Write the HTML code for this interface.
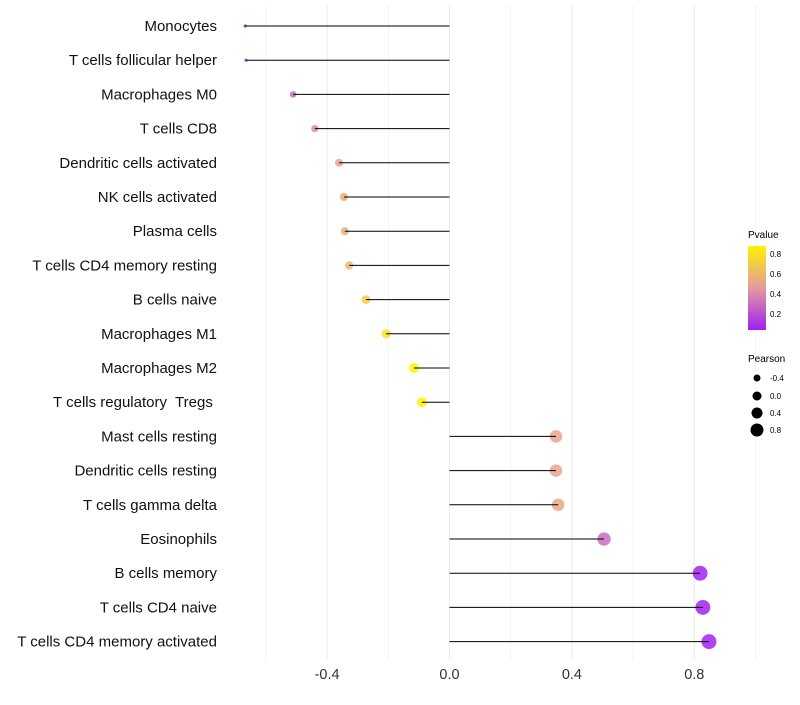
<!DOCTYPE html>
<html><head><meta charset="utf-8"><style>
body{margin:0;background:#fff;font-family:"Liberation Sans",sans-serif}
#ylabels text{white-space:pre}
</style></head><body>
<svg id="chart" width="800" height="700" xmlns="http://www.w3.org/2000/svg" font-family="Liberation Sans, sans-serif">
<defs>
<linearGradient id="pg" x1="0" y1="1" x2="0" y2="0">
<stop offset="0" stop-color="#A020F0"/>
<stop offset="0.5" stop-color="#E39AA0"/>
<stop offset="1" stop-color="#FFF200"/>
</linearGradient>
</defs>
<g id="grid"></g>
<g id="marks"></g>
<g id="ylabels"></g>
<g id="xlabels"></g>
<g>
<text x="748" y="238" font-size="10">Pvalue</text>
<rect x="748" y="246" width="18" height="84" fill="url(#pg)"/>
<text x="770" y="257" font-size="8">0.8</text>
<text x="770" y="277" font-size="8">0.6</text>
<text x="770" y="297" font-size="8">0.4</text>
<text x="770" y="317" font-size="8">0.2</text>
</g>
<g>
<text x="748" y="362" font-size="10">Pearson</text>
<circle cx="757" cy="378" r="3.5"/>
<circle cx="757" cy="396" r="4.5"/>
<circle cx="757" cy="413" r="5.5"/>
<circle cx="757" cy="430" r="6.5"/>
<text x="770" y="381" font-size="8">-0.4</text>
<text x="770" y="399" font-size="8">0.0</text>
<text x="770" y="416" font-size="8">0.4</text>
<text x="770" y="433" font-size="8">0.8</text>
</g>
</svg>
<script>
const categories=["Monocytes","T cells follicular helper","Macrophages M0","T cells CD8","Dendritic cells activated","NK cells activated","Plasma cells","T cells CD4 memory resting","B cells naive","Macrophages M1","Macrophages M2","T cells regulatory  Tregs ","Mast cells resting","Dendritic cells resting","T cells gamma delta","Eosinophils","B cells memory","T cells CD4 naive","T cells CD4 memory activated"];
const pearson=[-0.668,-0.665,-0.511,-0.44,-0.361,-0.345,-0.342,-0.328,-0.273,-0.207,-0.116,-0.09,0.348,0.348,0.355,0.505,0.819,0.828,0.848];
const pvalues=[0.05,0.06,0.3,0.4,0.5,0.55,0.55,0.6,0.68,0.78,0.88,0.9,0.5,0.5,0.52,0.3,0.05,0.05,0.05];
const xTicks=[-0.4,0,0.4,0.8];
const xTickLabels=["-0.4","0.0","0.4","0.8"];
const gridVals=[-0.6,-0.4,-0.2,0,0.2,0.4,0.6,0.8,1.0];
const NS="http://www.w3.org/2000/svg";
const x=v=>449.5+v*306;
const y=i=>26+i*34.2;
const r=v=>{const q=v+0.67;return q<0.02?1.6:Math.sqrt(5.8+33*q);};
function lerp(a,b,t){return a.map((c,k)=>Math.round(c+(b[k]-c)*t));}
function col(p){const t=Math.max(0,Math.min(1,(p-0.04)/0.83));const A=[160,32,240],M=[227,154,160],B=[255,242,0];const c=t<0.5?lerp(A,M,t*2):lerp(M,B,(t-0.5)*2);return`rgb(${c})`;}
function mk(t,at,parent){const e=document.createElementNS(NS,t);for(const k in at)e.setAttribute(k,at[k]);document.getElementById(parent).appendChild(e);return e;}
gridVals.forEach(g=>{const l=mk('line',{x1:x(g),x2:x(g),y1:5,y2:660,stroke:'#ebebeb','stroke-width':Math.round(g*10)%4===0?1:0.6},'grid');

});
categories.forEach((c,i)=>{
const d=mk('circle',{cx:x(pearson[i]),cy:y(i),r:r(pearson[i]),fill:col(pvalues[i]),'fill-opacity':0.85},'marks');


const l=mk('line',{x1:x(0),x2:x(pearson[i]),y1:y(i),y2:y(i),stroke:'#000','stroke-width':1},'marks');


const t=mk('text',{x:217,y:y(i)+5,'text-anchor':'end','font-size':15,fill:'#111'},'ylabels');
t.textContent=c;


});
xTicks.forEach((v,i)=>{const t=mk('text',{x:x(v),y:679,'text-anchor':'middle','font-size':14.5,fill:'#333'},'xlabels');
t.textContent=xTickLabels[i];

});
</script>
</body></html>
